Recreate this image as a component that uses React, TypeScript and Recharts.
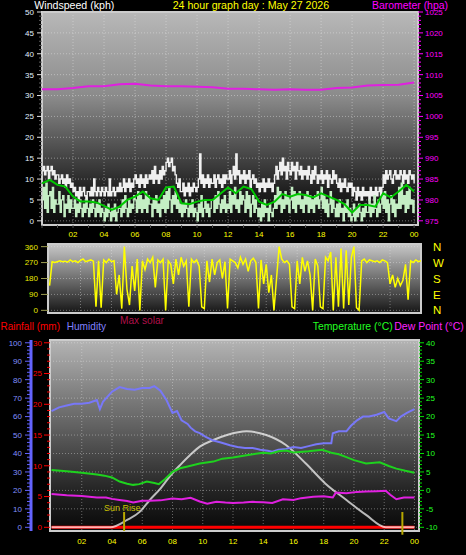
import React from "react";
import {
  ComposedChart,
  Line,
  XAxis,
  YAxis,
  CartesianGrid,
  ReferenceArea,
  ReferenceLine,
} from "recharts";

const FONT = "'Liberation Sans', Arial, sans-serif";

// ---- time axis (hours of the day)
const HOURS = [0, 1, 2, 3, 4, 5, 6, 7, 8, 9, 10, 11, 12, 13, 14, 15, 16, 17, 18, 19, 20, 21, 22, 23, 24];
const EVEN_HOURS = [2, 4, 6, 8, 10, 12, 14, 16, 18, 20, 22, 24];

// ---- top panel: wind (kph), 5-minute samples, one row per hour
const GUST_KPH = [
  12, 13, 11, 12, 13, 10, 12, 13, 11, 12, 10, 11,
  11, 9, 10, 11, 9, 10, 8, 11, 9, 10, 8, 9,
  7, 8, 6, 7, 5, 8, 6, 7, 8, 6, 5, 7,
  7, 6, 8, 6, 10, 7, 6, 8, 7, 6, 8, 7,
  6, 8, 7, 6, 10, 6, 7, 8, 6, 7, 8, 7,
  9, 7, 8, 10, 7, 9, 8, 10, 7, 9, 8, 10,
  11, 9, 10, 8, 11, 9, 10, 8, 11, 9, 10, 11,
  10, 12, 9, 13, 10, 11, 9, 12, 10, 13, 11, 12,
  14, 15, 13, 14, 15, 12, 13, 11, 9, 8, 10, 7,
  7, 9, 6, 8, 7, 9, 6, 8, 7, 9, 8, 7,
  8, 10, 16, 9, 11, 8, 10, 9, 11, 8, 10, 9,
  9, 11, 8, 10, 11, 9, 10, 8, 11, 9, 11, 10,
  10, 12, 9, 11, 13, 10, 16, 11, 12, 9, 11, 10,
  12, 9, 11, 10, 12, 8, 10, 11, 9, 10, 8, 9,
  7, 9, 8, 10, 7, 9, 8, 10, 8, 9, 7, 9,
  11, 13, 10, 12, 14, 11, 15, 12, 13, 10, 14, 12,
  11, 14, 12, 13, 10, 14, 12, 11, 13, 10, 12, 11,
  12, 10, 13, 11, 9, 12, 10, 13, 11, 9, 11, 10,
  12, 9, 11, 10, 12, 8, 11, 10, 9, 12, 10, 11,
  9, 8, 10, 7, 9, 8, 10, 8, 7, 9, 8, 9,
  6, 8, 7, 5, 8, 6, 7, 5, 8, 6, 7, 6,
  7, 5, 8, 6, 7, 5, 8, 6, 7, 8, 6, 8,
  11, 9, 12, 10, 11, 12, 10, 9, 11, 12, 10, 11,
  10, 12, 11, 9, 12, 10, 11, 9, 12, 11, 10, 11,
  9,
];
const SPEED_KPH = [
  5, 8, 3, 9, 2, 6, 7, 3, 8, 2, 5, 4,
  4, 7, 2, 5, 6, 1, 4, 3, 6, 2, 5, 3,
  3, 5, 1, 4, 2, 5, 3, 1, 4, 2, 5, 3,
  1, 4, 2, 5, 3, 1, 4, 2, 5, 1, 3, 2,
  0, 3, 1, 4, 2, 0, 3, 1, 4, 0, 2, 3,
  3, 1, 5, 2, 6, 3, 1, 5, 2, 4, 3, 6,
  5, 2, 7, 3, 6, 2, 5, 3, 7, 2, 6, 4,
  4, 1, 5, 3, 6, 2, 4, 1, 5, 3, 6, 2,
  7, 3, 8, 5, 2, 6, 4, 7, 3, 5, 2, 4,
  1, 4, 2, 5, 3, 1, 4, 2, 5, 1, 3, 2,
  0, 4, 2, 6, 1, 3, 5, 2, 4, 1, 3, 5,
  5, 2, 6, 3, 7, 4, 2, 5, 3, 6, 2, 4,
  3, 7, 2, 6, 4, 8, 3, 5, 2, 7, 4, 6,
  5, 2, 7, 3, 6, 1, 4, 6, 2, 5, 3, 1,
  3, 0, 4, 1, 5, 2, 3, 0, 4, 2, 1, 3,
  6, 3, 8, 4, 7, 2, 5, 3, 7, 4, 6, 2,
  5, 8, 3, 7, 2, 6, 4, 7, 3, 5, 2, 6,
  4, 7, 2, 6, 3, 5, 2, 6, 4, 7, 3, 5,
  8, 3, 6, 2, 5, 1, 4, 7, 2, 5, 3, 1,
  4, 1, 5, 2, 3, 0, 4, 2, 5, 1, 3, 0,
  1, 4, 0, 3, 1, 4, 2, 0, 3, 1, 4, 2,
  2, 5, 1, 4, 2, 6, 3, 1, 5, 2, 4, 6,
  3, 7, 2, 5, 0, 4, 6, 2, 5, 1, 4, 3,
  8, 3, 9, 4, 6, 2, 7, 3, 8, 4, 5, 2,
  5,
];
// half-hourly average
const AVG_KPH = [
  9.0, 9.8, 8.6, 8.2, 5.8, 4.6, 4.6, 4.4, 3.6, 2.6, 3.4, 5.0, 5.8, 7.0, 5.4, 5.0,
  8.0, 8.2, 4.2, 4.0, 4.6, 5.0, 5.0, 6.5, 8.0, 6.6, 8.2, 7.6, 4.6, 3.8, 4.6, 6.4,
  5.8, 6.4, 6.2, 5.6, 6.6, 5.8, 5.0, 4.0, 2.0, 3.8, 3.8, 3.4, 6.6, 5.6, 7.0, 8.6, 7.0,
];
// hourly barometer (hPa)
const BARO_HPA = [
  1006.5, 1006.5, 1006.8, 1007.2, 1007.2, 1007.7, 1007.8, 1007.4, 1007.2, 1007.2, 1007.1, 1007.0,
  1006.6, 1006.6, 1006.5, 1006.4, 1006.5, 1006.4, 1006.4, 1006.8, 1006.9, 1007.4, 1007.5, 1007.6, 1008.1,
];
const WIND_TICKS = Array.from({ length: 51 }, (_, i) => i);
const WIND_GRID = [0, 5, 10, 15, 20, 25, 30, 35, 40, 45, 50];
const BARO_TICKS = Array.from({ length: 51 }, (_, i) => 975 + i);

// ---- middle panel: wind direction (deg), 10-minute samples
const DIR_DEG = [
  140, 275, 270, 275, 280, 275, 278, 272, 285, 275, 280, 270, 282, 290, 275, 280, 285, 278,
  20, 280, 15, 285, 270, 290, 275, 280, 90, 200, 10, 360, 120, 30, 250, 110, 290, 0,
  280, 230, 290, 270, 300, 130, 285, 270, 290, 0, 280, 260, 150, 290, 200, 300, 250, 280,
  20, 290, 270, 285, 250, 20, 10, 280, 160, 290, 200, 270, 285, 180, 275, 10, 290, 280,
  270, 240, 300, 260, 290, 220, 280, 295, 270, 10, 285, 150, 260, 100, 200, 0, 180, 360,
  290, 270, 280, 260, 20, 10, 280, 150, 300, 220, 280, 200, 0, 290, 250, 20, 10, 300,
  280, 330, 0, 300, 20, 350, 10, 340, 30, 300, 360, 15, 0, 280, 290, 270, 285, 280,
  275, 280, 270, 285, 280, 270, 150, 200, 130, 180, 140, 170, 260, 60, 280, 270, 285, 275, 280,
];
const DIR_TICKS = [0, 90, 180, 270, 360];
const COMPASS = ["N", "E", "S", "W", "N"];

// ---- bottom panel
const HUM_T = [0, 0.5, 1, 1.5, 2, 2.5, 3, 3.2, 3.4, 4, 4.5, 5, 5.5, 6, 6.5, 6.8, 7.2, 7.6, 8, 8.3, 8.6, 9, 9.2, 9.5, 9.8, 10.2, 10.7, 11.2, 11.8, 12.3, 12.8, 13.3, 13.8, 14.3, 14.6, 15, 15.5, 16, 16.5, 17, 17.5, 18, 18.5, 18.6, 19, 19.5, 19.8, 20.2, 20.6, 21, 21.5, 22, 22.3, 22.8, 23.1, 23.5, 24];
const HUM_PCT = [63, 65, 66, 67, 67, 67.5, 69, 64, 68, 73.5, 76, 75, 74.5, 75.5, 75.5, 76.5, 74, 69, 62, 63, 58, 56, 54, 52, 51, 49, 47, 46, 44.5, 43.5, 43, 43, 42, 41.5, 41, 42, 42.5, 43.5, 43, 44, 45, 45.5, 45.5, 51, 52, 52, 55, 58, 60, 60, 61, 62.5, 59, 57.5, 60, 62, 64];
const TEMP_T = [0, 1, 2, 3, 3.5, 4, 4.5, 5, 5.4, 5.8, 6.3, 6.8, 7.1, 7.5, 8, 8.5, 9, 9.8, 10.7, 11.3, 12, 13, 14, 14.5, 15, 15.5, 16, 17, 17.9, 18.5, 19, 19.5, 20, 20.8, 21.7, 22.3, 22.8, 23.4, 24];
const TEMP_C = [5.5, 5.2, 4.8, 4.3, 4.0, 3.5, 2.4, 1.8, 1.5, 1.7, 2.4, 2.0, 1.7, 3.0, 5.0, 6.0, 6.5, 7.3, 7.8, 8.6, 8.9, 9.6, 10.2, 10.0, 10.6, 10.8, 10.3, 10.6, 11.0, 10.2, 9.8, 9.0, 8.2, 7.3, 7.6, 6.6, 5.9, 5.3, 4.8];
const DEW_T = [0, 1, 2, 3, 3.6, 4, 4.5, 5, 5.4, 6, 6.5, 7.2, 8, 8.6, 9.2, 9.8, 10.3, 10.9, 11.5, 12, 12.7, 13.3, 14, 14.6, 15.3, 16, 16.5, 17.3, 18, 18.6, 18.8, 19.5, 20.2, 20.8, 21.5, 22.1, 22.4, 22.8, 23.3, 24];
const DEW_C = [-1.0, -1.3, -1.5, -1.9, -1.9, -2.3, -2.6, -2.9, -3.3, -2.8, -2.8, -2.7, -2.2, -2.4, -2.0, -3.0, -3.6, -3.1, -3.3, -3.4, -3.3, -3.1, -3.2, -3.4, -2.4, -2.6, -2.1, -1.7, -1.6, -1.9, -0.6, -0.8, -0.4, -0.3, -0.2, -0.1, -1.2, -2.4, -1.9, -1.9];
// max solar curve, drawn on the humidity scale
const SOLAR_T = [0, 3.9, 5, 5.85, 6.5, 7.2, 7.8, 8.5, 9.15, 9.8, 10.7, 11.6, 12.9, 14.2, 15.5, 16.8, 18.1, 19.5, 20.8, 22.1, 24];
const SOLAR_V = [0, 0, 4, 8.5, 14.8, 21, 27.4, 33.7, 39, 43.7, 47.3, 50, 52, 50, 44.6, 34.7, 23.8, 14.8, 6.7, 0, 0];
const RAIN_T = [0, 24];
const RAIN_MM = [0, 0];
const SUN_EVENTS = [4.8, 23.2];

const HUM_TICKS = Array.from({ length: 51 }, (_, i) => i * 2);
const RAIN_TICKS = Array.from({ length: 31 }, (_, i) => i);
const TEMP_TICKS = Array.from({ length: 51 }, (_, i) => i - 10);
const HUM_GRID = [0, 10, 20, 30, 40, 50, 60, 70, 80, 90, 100];

const pts = (ts: number[], vs: number[]) => vs.map((v, i) => ({ t: ts[i], v }));
const T5 = GUST_KPH.map((_, i) => i / 12);
const T10 = DIR_DEG.map((_, i) => i / 6);
const T30 = AVG_KPH.map((_, i) => i / 2);

const gustData = pts(T5, GUST_KPH);
const speedData = pts(T5, SPEED_KPH);
const avgData = pts(T30, AVG_KPH);
const baroData = pts(HOURS, BARO_HPA);
const dirData = pts(T10, DIR_DEG);

// left axes get stacked by id: "a-" sits next to the plot, "b-" outside it
const RAIN_AX = "a-rain";
const HUM_AX = "b-hum";

type TickCfg = {
  side: "left" | "right" | "bottom";
  major: (v: number) => boolean;
  majorLen: number;
  minorLen: number;
  tickColor: string;
  minorColor?: string;
  labelColor: string;
  label: (v: number) => string;
  fontSize?: number;
  gap?: number;
  labelDy?: number;
};

// one tick renderer for all axes: tick mark + optional label
function axisTick(cfg: TickCfg) {
  return (p: any) => {
    const v = Number(p.payload.value);
    const { x, y } = p;
    const maj = cfg.major(v);
    const len = maj ? cfg.majorLen : cfg.minorLen;
    const col = maj ? cfg.tickColor : cfg.minorColor ?? cfg.tickColor;
    const fs = cfg.fontSize ?? 8;
    const gap = cfg.gap ?? 2;
    const txt = maj ? cfg.label(v) : "";
    if (cfg.side === "bottom") {
      return (
        <g>
          {len > 0 && <line x1={x} x2={x} y1={y} y2={y + len} stroke={col} />}
          {txt && (
            <text x={x} y={y + (cfg.labelDy ?? 12)} textAnchor="middle" fill={cfg.labelColor} fontSize={fs} fontFamily={FONT}>
              {txt}
            </text>
          )}
        </g>
      );
    }
    const dir = cfg.side === "left" ? -1 : 1;
    return (
      <g>
        {len > 0 && <line x1={x} x2={x + dir * len} y1={y} y2={y} stroke={col} />}
        {txt && (
          <text
            x={x + dir * (cfg.majorLen + gap)}
            y={y}
            dy={fs * 0.36}
            textAnchor={dir < 0 ? "end" : "start"}
            fill={cfg.labelColor}
            fontSize={fs}
            fontFamily={FONT}
          >
            {txt}
          </text>
        )}
      </g>
    );
  };
}

const hourLabel = (v: number) => String(v % 24).padStart(2, "0");

function TopPanel() {
  return (
    <ComposedChart width={466} height={240} margin={{ top: 12, right: 0, bottom: 0, left: 0 }}>
      <defs>
        <linearGradient id="bgTop" x1="0" y1="0" x2="0" y2="1">
          <stop offset="0%" stopColor="#b8b8b8" />
          <stop offset="40%" stopColor="#8a8a8a" />
          <stop offset="65%" stopColor="#4c4c4c" />
          <stop offset="85%" stopColor="#1c1c1c" />
          <stop offset="100%" stopColor="#0c0c0c" />
        </linearGradient>
      </defs>
      <CartesianGrid
        yAxisId="w"
        fill="url(#bgTop)"
        stroke="#e8e8e8"
        strokeOpacity={0.45}
        strokeDasharray="1 2"
        horizontalValues={WIND_GRID}
        verticalValues={EVEN_HOURS}
      />
      <XAxis
        dataKey="t"
        type="number"
        domain={[0, 24.25]}
        ticks={HOURS}
        interval={0}
        allowDataOverflow
        axisLine={false}
        tickSize={0}
        tickMargin={0}
        height={15}
        tick={axisTick({
          side: "bottom",
          major: (v) => v % 2 === 0 && v > 0,
          majorLen: 3,
          minorLen: 3,
          tickColor: "#505050",
          labelColor: "#ffff00",
          label: hourLabel,
          labelDy: 12.3,
        })}
      />
      <YAxis
        yAxisId="w"
        orientation="left"
        width={42}
        type="number"
        domain={[-1, 50]}
        ticks={WIND_TICKS}
        interval={0}
        allowDataOverflow
        axisLine={false}
        tickSize={0}
        tickMargin={0}
        tick={axisTick({
          side: "left",
          major: (v) => v % 5 === 0,
          majorLen: 5,
          minorLen: 3,
          tickColor: "#e0e0e0",
          minorColor: "#606060",
          labelColor: "#e0f0ff",
          label: (v) => String(v),
          gap: 3,
        })}
      />
      <YAxis
        yAxisId="b"
        orientation="right"
        width={48}
        type="number"
        domain={[974, 1025]}
        ticks={BARO_TICKS}
        interval={0}
        allowDataOverflow
        axisLine={false}
        tickSize={0}
        tickMargin={0}
        tick={axisTick({
          side: "right",
          major: (v) => v % 5 === 0,
          majorLen: 5,
          minorLen: 3,
          tickColor: "#ff00ff",
          labelColor: "#ff00ff",
          label: (v) => String(v),
          gap: 2,
        })}
      />
      <Line yAxisId="w" data={gustData} dataKey="v" type="stepAfter" stroke="#f0f0f0" strokeWidth={1.4} dot={false} isAnimationActive={false} />
      <Line yAxisId="w" data={speedData} dataKey="v" type="stepAfter" stroke="#c4eec4" strokeWidth={1.3} dot={false} isAnimationActive={false} />
      <Line yAxisId="w" data={avgData} dataKey="v" type="linear" stroke="#00c800" strokeWidth={2} dot={false} isAnimationActive={false} />
      <Line yAxisId="b" data={baroData} dataKey="v" type="linear" stroke="#e020e0" strokeWidth={2} dot={false} isAnimationActive={false} />
      <ReferenceArea yAxisId="w" x1={0} x2={24.25} y1={-1} y2={50} fill="none" stroke="#cccccc" strokeWidth={2} ifOverflow="visible" />
    </ComposedChart>
  );
}

function MiddlePanel() {
  return (
    <ComposedChart width={466} height={80} margin={{ top: 4, right: 0, bottom: 7, left: 0 }}>
      <defs>
        <linearGradient id="bgMid" x1="0" y1="0" x2="0" y2="1">
          <stop offset="0%" stopColor="#c8c8c8" />
          <stop offset="50%" stopColor="#707070" />
          <stop offset="100%" stopColor="#161616" />
        </linearGradient>
      </defs>
      <CartesianGrid
        yAxisId="d"
        fill="url(#bgMid)"
        stroke="#e8e8e8"
        strokeOpacity={0.4}
        strokeDasharray="1 2"
        horizontalValues={DIR_TICKS}
        verticalValues={EVEN_HOURS}
      />
      <XAxis dataKey="t" type="number" domain={[-0.1, 24]} allowDataOverflow hide />
      <YAxis
        yAxisId="d"
        orientation="left"
        width={48}
        type="number"
        domain={[-15, 375]}
        ticks={DIR_TICKS}
        interval={0}
        allowDataOverflow
        axisLine={false}
        tickSize={0}
        tickMargin={0}
        tick={axisTick({
          side: "left",
          major: () => true,
          majorLen: 7,
          minorLen: 7,
          tickColor: "#9c9c50",
          labelColor: "#e8e800",
          label: (v) => String(v),
          gap: 3,
        })}
      />
      <YAxis
        yAxisId="c"
        orientation="right"
        width={45}
        type="number"
        domain={[-15, 375]}
        ticks={DIR_TICKS}
        interval={0}
        allowDataOverflow
        axisLine={false}
        tickSize={0}
        tickMargin={0}
        tick={axisTick({
          side: "right",
          major: () => true,
          majorLen: 0,
          minorLen: 0,
          tickColor: "#ffff00",
          labelColor: "#ffff00",
          label: (v) => COMPASS[DIR_TICKS.indexOf(v)],
          fontSize: 11.5,
          gap: 12,
        })}
      />
      <Line yAxisId="d" data={dirData} dataKey="v" type="linear" stroke="#ffff00" strokeWidth={1.5} dot={false} isAnimationActive={false} />
      <ReferenceArea yAxisId="d" x1={-0.1} x2={24} y1={-15} y2={375} fill="none" stroke="#cccccc" strokeWidth={2} ifOverflow="visible" />
    </ComposedChart>
  );
}

function BottomPanel() {
  return (
    <ComposedChart width={466} height={219} margin={{ top: 4, right: 0, bottom: 0, left: 0 }}>
      <defs>
        <linearGradient id="bgBot" x1="0" y1="0" x2="0" y2="1">
          <stop offset="0%" stopColor="#b4b4b4" />
          <stop offset="30%" stopColor="#7c7c7c" />
          <stop offset="55%" stopColor="#505050" />
          <stop offset="80%" stopColor="#222222" />
          <stop offset="100%" stopColor="#080808" />
        </linearGradient>
      </defs>
      <CartesianGrid
        yAxisId={HUM_AX}
        fill="url(#bgBot)"
        stroke="#e8e8e8"
        strokeOpacity={0.4}
        strokeDasharray="1 2"
        horizontalValues={HUM_GRID}
        verticalValues={EVEN_HOURS}
      />
      <XAxis
        dataKey="t"
        type="number"
        domain={[-0.1, 24.3]}
        ticks={HOURS}
        interval={0}
        allowDataOverflow
        axisLine={false}
        tickSize={0}
        tickMargin={0}
        height={24}
        tick={axisTick({
          side: "bottom",
          major: (v) => v % 2 === 0 && v > 0,
          majorLen: 0,
          minorLen: 0,
          tickColor: "#505050",
          labelColor: "#ffff00",
          label: hourLabel,
          labelDy: 13.4,
        })}
      />
      <YAxis
        yAxisId={RAIN_AX}
        orientation="left"
        width={19}
        type="number"
        domain={[-0.6, 30.45]}
        ticks={RAIN_TICKS}
        interval={0}
        allowDataOverflow
        axisLine={false}
        tickSize={0}
        tickMargin={0}
        tick={axisTick({
          side: "left",
          major: (v) => v % 5 === 0,
          majorLen: 6,
          minorLen: 3,
          tickColor: "#ff0000",
          labelColor: "#ff0000",
          label: (v) => String(v),
          gap: 2,
        })}
      />
      <YAxis
        yAxisId={HUM_AX}
        orientation="left"
        width={31}
        type="number"
        domain={[-2, 101.5]}
        ticks={HUM_TICKS}
        interval={0}
        allowDataOverflow
        axisLine={{ stroke: "#6464ff", strokeWidth: 3 }}
        tickSize={0}
        tickMargin={0}
        tick={axisTick({
          side: "left",
          major: (v) => v % 10 === 0,
          majorLen: 6,
          minorLen: 4,
          tickColor: "#6464ff",
          labelColor: "#8090ff",
          label: (v) => String(v),
          gap: 3,
        })}
      />
      <YAxis
        yAxisId="temp"
        orientation="right"
        width={47}
        type="number"
        domain={[-11, 40.75]}
        ticks={TEMP_TICKS}
        interval={0}
        allowDataOverflow
        axisLine={false}
        tickSize={0}
        tickMargin={0}
        tick={axisTick({
          side: "right",
          major: (v) => v % 5 === 0,
          majorLen: 5,
          minorLen: 3,
          tickColor: "#00e000",
          labelColor: "#20ff20",
          label: (v) => String(v),
          gap: 2,
        })}
      />
      <Line yAxisId={RAIN_AX} data={pts(RAIN_T, RAIN_MM)} dataKey="v" type="linear" stroke="#ff0000" strokeWidth={3} dot={false} isAnimationActive={false} />
      <Line yAxisId={HUM_AX} data={pts(SOLAR_T, SOLAR_V)} dataKey="v" type="monotone" stroke="#ffffff" strokeOpacity={0.7} strokeWidth={2} dot={false} isAnimationActive={false} />
      <Line yAxisId={HUM_AX} data={pts(HUM_T, HUM_PCT)} dataKey="v" type="linear" stroke="#7878f8" strokeWidth={2} dot={false} isAnimationActive={false} />
      <Line yAxisId="temp" data={pts(TEMP_T, TEMP_C)} dataKey="v" type="linear" stroke="#1ed21e" strokeWidth={2} dot={false} isAnimationActive={false} />
      <Line yAxisId="temp" data={pts(DEW_T, DEW_C)} dataKey="v" type="linear" stroke="#e020e0" strokeWidth={2} dot={false} isAnimationActive={false} />
      {SUN_EVENTS.map((h, i) => (
        <ReferenceLine
          key={h}
          yAxisId={HUM_AX}
          segment={[{ x: h, y: i === 0 ? -2 : -4 }, { x: h, y: 8.3 }]}
          stroke="#b8a800"
          strokeWidth={2}
          ifOverflow="visible"
        />
      ))}
      <ReferenceArea yAxisId={HUM_AX} x1={-0.1} x2={24.3} y1={-2} y2={101.5} fill="none" stroke="#cccccc" strokeWidth={2} ifOverflow="visible" />
    </ComposedChart>
  );
}

const LABELS = [
  { text: "Windspeed (kph)", x: 34.3, y: 9.2, w: 80, color: "#ffffff", fs: 10 },
  { text: "24 hour graph day : May 27 2026", x: 172.7, y: 9.2, w: 156.5, color: "#ffff00", fs: 10 },
  { text: "Barometer (hpa)", x: 372, y: 9.2, w: 76, color: "#ff00ff", fs: 10 },
  { text: "Max solar", x: 120, y: 323.5, w: 44, color: "#b0104a", fs: 10.5 },
  { text: "Rainfall (mm)", x: 0.5, y: 330.3, w: 59.5, color: "#ff0000", fs: 10.5 },
  { text: "Humidity", x: 66.7, y: 330.3, w: 39.3, color: "#8080ff", fs: 10.5 },
  { text: "Temperature (°C)", x: 312.7, y: 330.3, w: 80, color: "#22ff22", fs: 10.5 },
  { text: "Dew Point (°C)", x: 394.3, y: 330.3, w: 69.5, color: "#ff22ff", fs: 10.5 },
];

export default function App() {
  return (
    <div style={{ position: "fixed", left: 0, top: 0, width: 466, height: 555, background: "#000", overflow: "hidden" }}>
      <div style={{ position: "absolute", left: 0, top: 0 }}>
        <TopPanel />
      </div>
      <div style={{ position: "absolute", left: 0, top: 240 }}>
        <MiddlePanel />
      </div>
      <div style={{ position: "absolute", left: 0, top: 336 }}>
        <BottomPanel />
      </div>
      <svg width={466} height={555} style={{ position: "absolute", left: 0, top: 0, pointerEvents: "none" }}>
        {LABELS.map((l) => (
          <text key={l.text} x={l.x} y={l.y} fill={l.color} fontSize={l.fs} fontFamily={FONT} textLength={l.w} lengthAdjust="spacingAndGlyphs">
            {l.text}
          </text>
        ))}
        <text x={104} y={511} fill="#c8c000" fontSize={9.5} fontFamily={FONT} textLength={36.5} lengthAdjust="spacingAndGlyphs">
          Sun Rise
        </text>
      </svg>
    </div>
  );
}
